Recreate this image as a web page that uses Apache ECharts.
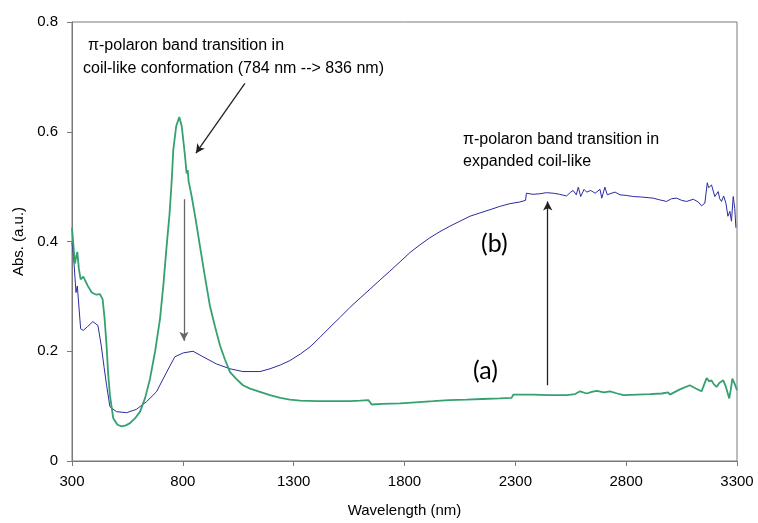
<!DOCTYPE html>
<html>
<head>
<meta charset="utf-8">
<title>Abs. spectrum</title>
<script src="https://cdn.jsdelivr.net/npm/echarts@6/dist/echarts.min.js"></script>
<style>
  html, body { margin: 0; padding: 0; background: #fff; }
  #chart { width: 758px; height: 523px; }
</style>
</head>
<body>
<div id="chart"></div>
<script>
// 曲线 (a)
var waveA = [300, 313, 318, 324, 331, 339, 351, 370, 389, 410, 426, 438, 447, 456, 463, 471, 486, 505, 524, 543,
  562, 585, 607, 630, 652, 675, 697, 712, 727, 740, 750, 757, 770, 784, 795, 802, 810, 817, 822, 826,
  832, 840, 858, 877, 900, 922, 945, 968, 990, 1013, 1040, 1071, 1103, 1148, 1193, 1240, 1283, 1330, 1404, 1480,
  1554, 1600, 1637, 1652, 1700, 1780, 1850, 1929, 2000, 2080, 2150, 2231, 2283, 2291, 2381, 2450, 2531, 2570, 2592, 2622,
  2645, 2667, 2700, 2727, 2760, 2788, 2850, 2907, 2960, 2990, 2997, 3040, 3087, 3110, 3140, 3163, 3175, 3185, 3195, 3208,
  3220, 3238, 3250, 3265, 3272, 3279, 3290, 3300];
var absA = [0.425, 0.36, 0.37, 0.381, 0.35, 0.331, 0.336, 0.32, 0.307, 0.303, 0.304, 0.295, 0.26, 0.21, 0.16, 0.12, 0.078, 0.066, 0.063, 0.065,
  0.069, 0.078, 0.09, 0.115, 0.15, 0.2, 0.259, 0.32, 0.392, 0.45, 0.512, 0.567, 0.61, 0.627, 0.61, 0.585, 0.555, 0.524, 0.53, 0.51,
  0.507, 0.482, 0.44, 0.392, 0.335, 0.283, 0.245, 0.21, 0.185, 0.162, 0.15, 0.138, 0.132, 0.126, 0.12, 0.115, 0.112, 0.11, 0.109, 0.109,
  0.109, 0.11, 0.111, 0.103, 0.104, 0.105, 0.107, 0.109, 0.111, 0.112, 0.113, 0.114, 0.115, 0.121, 0.121, 0.12, 0.12, 0.122, 0.127, 0.123,
  0.126, 0.128, 0.125, 0.127, 0.123, 0.12, 0.121, 0.122, 0.123, 0.125, 0.121, 0.13, 0.138, 0.133, 0.127, 0.151, 0.145, 0.147, 0.14, 0.135,
  0.142, 0.147, 0.135, 0.114, 0.13, 0.15, 0.14, 0.129];

// 曲线 (b)
var waveB = [300, 307, 318, 324, 339, 351, 370, 394, 417, 432, 445, 456, 471, 500, 546, 590, 636, 681, 727, 764,
  802, 846, 891, 951, 1013, 1071, 1103, 1148, 1193, 1240, 1283, 1330, 1374, 1420, 1464, 1510, 1554, 1600, 1644, 1690,
  1734, 1780, 1825, 1870, 1915, 1960, 2005, 2050, 2095, 2140, 2186, 2230, 2276, 2320, 2346, 2350, 2380, 2411, 2440, 2471,
  2500, 2531, 2550, 2561, 2575, 2584, 2595, 2610, 2622, 2640, 2660, 2682, 2690, 2704, 2715, 2727, 2750, 2772, 2800, 2832,
  2870, 2922, 2950, 2982, 3005, 3028, 3050, 3073, 3103, 3125, 3140, 3155, 3166, 3172, 3178, 3185, 3200, 3215, 3222, 3230,
  3240, 3250, 3259, 3268, 3275, 3283, 3290, 3295];
var absB = [0.398, 0.373, 0.307, 0.319, 0.241, 0.238, 0.245, 0.254, 0.247, 0.21, 0.17, 0.138, 0.099, 0.09, 0.088, 0.094, 0.108, 0.126, 0.162, 0.19,
  0.197, 0.2, 0.19, 0.177, 0.168, 0.163, 0.163, 0.163, 0.168, 0.175, 0.183, 0.195, 0.208, 0.226, 0.244, 0.262, 0.28, 0.297, 0.313, 0.33,
  0.346, 0.363, 0.38, 0.394, 0.407, 0.418, 0.428, 0.437, 0.446, 0.452, 0.458, 0.464, 0.469, 0.472, 0.475, 0.488, 0.486, 0.487, 0.489, 0.488,
  0.486, 0.483, 0.49, 0.493, 0.485, 0.499, 0.482, 0.495, 0.49, 0.493, 0.488, 0.495, 0.479, 0.499, 0.485, 0.487, 0.49, 0.485, 0.484, 0.482,
  0.481, 0.479, 0.476, 0.473, 0.478, 0.479, 0.475, 0.473, 0.477, 0.472, 0.465, 0.47, 0.507, 0.498, 0.5, 0.503, 0.482, 0.491, 0.478, 0.473,
  0.483, 0.47, 0.446, 0.455, 0.437, 0.482, 0.46, 0.425];

// 坐标轴
var xTicks = [300, 800, 1300, 1800, 2300, 2800, 3300];
var yTicks = [0, 0.2, 0.4, 0.6, 0.8];

// 箭头 [起点波长, 起点值, 终点波长, 终点值]
var arrowPeak = [1080, 0.688, 859, 0.561];
var arrowDown = [805, 0.477, 805, 0.219];
var arrowUp = [2446, 0.138, 2446, 0.473];

function zip(xs, ys) {
  return xs.map(function (x, i) { return [x, ys[i]]; });
}

function arrow(a, color) {
  return [{ coord: [a[0], a[1]], lineStyle: { color: color, width: 1.3, type: 'solid' } }, { coord: [a[2], a[3]] }];
}

var font = 'Liberation Sans, Arial, sans-serif';
var chart = echarts.init(document.getElementById('chart'));

chart.setOption({
  backgroundColor: '#fff',
  animation: false,
  grid: {
    left: 72, right: 21, top: 22, bottom: 60,
    show: true, borderColor: '#7a7a7a', borderWidth: 1
  },
  xAxis: {
    type: 'value',
    min: xTicks[0], max: xTicks[xTicks.length - 1], interval: 500,
    name: 'Wavelength (nm)', nameLocation: 'middle', nameGap: 42,
    nameTextStyle: { fontFamily: font, fontSize: 15, color: '#000' },
    axisLine: { show: true, lineStyle: { color: '#7a7a7a' } },
    axisTick: { show: true, length: 5, lineStyle: { color: '#7a7a7a' } },
    axisLabel: {
      fontFamily: font, fontSize: 15, color: '#000', margin: 13,
      formatter: function (v) { return String(v); }
    },
    splitLine: { show: false }
  },
  yAxis: {
    type: 'value',
    min: yTicks[0], max: yTicks[yTicks.length - 1], interval: 0.2,
    name: 'Abs. (a.u.)', nameLocation: 'middle', nameGap: 46,
    nameTextStyle: { fontFamily: font, fontSize: 15, color: '#000' },
    axisLine: { show: true, lineStyle: { color: '#7a7a7a' } },
    axisTick: { show: true, length: 5, lineStyle: { color: '#7a7a7a' } },
    axisLabel: { fontFamily: font, fontSize: 15, color: '#000', margin: 14 },
    splitLine: { show: false }
  },
  series: [
    {
      name: '(a)',
      type: 'line',
      data: zip(waveA, absA),
      showSymbol: false,
      lineStyle: { color: '#35a070', width: 1.8 },
      markLine: {
        silent: true,
        symbol: ['none', 'arrow'],
        symbolSize: [7, 9],
        label: { show: false },
        data: [arrow(arrowPeak, '#222'), arrow(arrowDown, '#666')]
      },
      z: 3
    },
    {
      name: '(b)',
      type: 'line',
      data: zip(waveB, absB),
      showSymbol: false,
      lineStyle: { color: '#2c2ca0', width: 1 },
      markLine: {
        silent: true,
        symbol: ['none', 'arrow'],
        symbolSize: [7, 9],
        label: { show: false },
        data: [arrow(arrowUp, '#222')]
      },
      z: 2
    }
  ],
  graphic: [
    { type: 'text', left: 88, top: 38, style: { text: 'π-polaron band transition in', font: '16px ' + font, fill: '#000' } },
    { type: 'text', left: 83, top: 61, style: { text: 'coil-like conformation (784 nm --> 836 nm)', font: '16px ' + font, fill: '#000' } },
    { type: 'text', left: 463, top: 132, style: { text: 'π-polaron band transition in', font: '16px ' + font, fill: '#000' } },
    { type: 'text', left: 463, top: 154, style: { text: 'expanded coil-like', font: '16px ' + font, fill: '#000' } },
    { type: 'text', left: 481, top: 231, style: { text: '(b)', font: '25px Lato, "Open Sans", sans-serif', fill: '#000' } },
    { type: 'text', left: 473, top: 358, style: { text: '(a)', font: '25px Lato, "Open Sans", sans-serif', fill: '#000' } }
  ]
});
</script>
</body>
</html>
